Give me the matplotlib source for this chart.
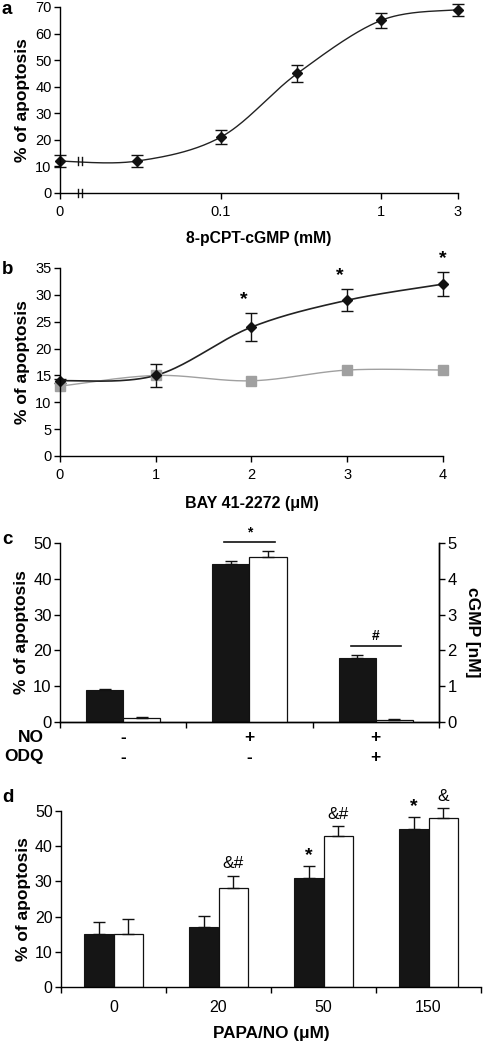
import numpy as np
import matplotlib
matplotlib.use('Agg')
import matplotlib.pyplot as plt

plt.rcParams['font.family'] = ['Liberation Sans', 'DejaVu Sans']

# ---------------- data ----------------
# Panel a
a_conc = [0, 0.03, 0.1, 0.3, 1, 3]
a_apop = [12, 12, 21, 45, 65, 69]
a_err = [2.3, 2.3, 2.7, 3.2, 2.8, 2.3]
a_xticks = [0, 0.1, 1, 3]
a_xticklabels = ['0', '0.1', '1', '3']

# Panel b
b_bay = [0, 1, 2, 3, 4]
b_black = [14, 15, 24, 29, 32]
b_black_err = [0.4, 2.2, 2.6, 2.0, 2.2]
b_gray = [13, 15, 14, 16, 16]
b_sig = ['', '', '*', '*', '*']

# Panel c
c_no = ['-', '+', '+']
c_odq = ['-', '-', '+']
c_apop = [9, 44, 18]
c_apop_err = [0.3, 1.0, 0.7]
c_cgmp = [0.1, 4.6, 0.05]
c_cgmp_err = [0.03, 0.17, 0.03]
c_sig = ['', '*', '#']
c_sig_level = [None, 50.2, 21.3]

# Panel d
d_papa = ['0', '20', '50', '150']
d_black = [15, 17, 31, 45]
d_black_err = [3.4, 3.3, 3.3, 3.3]
d_white = [15, 28, 43, 48]
d_white_err = [4.3, 3.6, 2.6, 2.8]
d_black_sig = ['', '', '*', '*']
d_white_sig = ['', '&#', '&#', '&']

W, H = 489, 1042
fig = plt.figure(figsize=(W / 100, H / 100), dpi=100)


def ax_px(l, r, top, bottom):
    return fig.add_axes([l / W, 1 - bottom / H, (r - l) / W, (bottom - top) / H])


def smooth(xs, ys, sx, sy, n=40):
    P = np.column_stack([np.asarray(xs, float) / sx, np.asarray(ys, float) / sy])
    out = []
    for i in range(len(P) - 1):
        p0 = P[i - 1] if i > 0 else P[i]
        p1, p2 = P[i], P[i + 1]
        p3 = P[i + 2] if i + 2 < len(P) else P[i + 1]
        c1 = p1 + (p2 - p0) / 6
        c2 = p2 - (p3 - p1) / 6
        t = np.linspace(0, 1, n)[:, None]
        seg = (1 - t) ** 3 * p1 + 3 * (1 - t) ** 2 * t * c1 + 3 * (1 - t) * t ** 2 * c2 + t ** 3 * p2
        out.append(seg if i == 0 else seg[1:])
    out = np.vstack(out)
    return out[:, 0] * sx, out[:, 1] * sy


def style(ax, fs=9, right=False):
    for s in ['top'] + ([] if right else ['right']):
        ax.spines[s].set_visible(False)
    for s in ax.spines.values():
        s.set_linewidth(1.0)
    ax.tick_params(direction='out', length=4, width=1, labelsize=fs, pad=2)


ylab_kw = dict(fontweight='bold', fontsize=12.5)

# ---------------- panel a ----------------
axa = ax_px(60, 458, 7, 193)
style(axa, fs=10.5)
ZERO_POS = -2.0


def apos(v):
    v = np.asarray(v, float)
    return np.where(v > 0, np.log10(np.where(v > 0, v, 1)), ZERO_POS)


xa = apos(a_conc)
xlim_a = (ZERO_POS, np.log10(3))
axa.set_xlim(*xlim_a)
axa.set_ylim(0, 70)
sx = (xlim_a[1] - xlim_a[0]) / 398
sy = 70 / 186
cx, cy = smooth(xa, a_apop, sx, sy)
axa.plot(cx, cy, color='#222222', lw=1.0, clip_on=False)
axa.errorbar(xa, a_apop, yerr=a_err, fmt='D', color='#111111', ms=5.5, ecolor='#111111',
             elinewidth=1, capsize=4, capthick=1, clip_on=False)
axa.set_xticks(apos(a_xticks))
axa.set_xticklabels(a_xticklabels)
axa.tick_params(axis='x', pad=5)
axa.set_yticks(range(0, 71, 10))
axa.set_xlabel('8-pCPT-cGMP (mM)', fontsize=11.3, fontweight='bold', labelpad=8)
axa.set_ylabel('% of apoptosis', labelpad=4, **ylab_kw)
# axis break marks
bx = ZERO_POS + 0.11
for yb in (0, a_apop[0]):
    for dx in (0, 0.024):
        axa.plot([bx + dx, bx + dx], [yb - 1.4, yb + 1.4], color='#111111', lw=1, clip_on=False)

# ---------------- panel b ----------------
axb = ax_px(60, 443, 268, 456)
style(axb, fs=10.5)
axb.set_xlim(0, 4)
axb.set_ylim(0, 35)
sxb = 4 / 383
syb = 35 / 188
gx, gy = smooth(b_bay, b_gray, sxb, syb)
axb.plot(gx, gy, color='#a0a0a0', lw=1.0, clip_on=False)
kx, ky = smooth(b_bay, b_black, sxb, syb)
axb.plot(kx, ky, color='#222222', lw=1.2, clip_on=False)
axb.errorbar(b_bay, b_black, yerr=b_black_err, fmt='D', color='#111111', ms=5.5,
             elinewidth=1, capsize=4, capthick=1, clip_on=False)
axb.plot(b_bay, b_gray, 's', color='#a0a0a0', ms=7, clip_on=False)
for x, v, e, s in zip(b_bay, b_black, b_black_err, b_sig):
    if s:
        axb.text(x - 0.08 if x < 4 else x, v + e + 1.0, s, ha='center', va='bottom',
                 fontsize=14, fontweight='bold')
axb.set_xticks(b_bay)
axb.tick_params(axis='x', pad=5)
axb.set_yticks(range(0, 36, 5))
axb.set_xlabel('BAY 41-2272 (\u03bcM)', fontsize=11.5, fontweight='bold', labelpad=10)
axb.set_ylabel('% of apoptosis', labelpad=4, **ylab_kw)

# ---------------- panel c ----------------
axc = ax_px(60, 439, 543, 722)
style(axc, fs=12, right=True)
axc2 = axc.twinx()
style(axc2, fs=12, right=True)
axc2.spines['left'].set_visible(False)
nc = len(c_apop)
xc = np.arange(nc)
bw = 0.295
axc.set_xlim(-0.5, nc - 0.5)
axc.set_ylim(0, 50)
axc2.set_ylim(0, 5)
axc.bar(xc - bw / 2, c_apop, bw, color='#151515', edgecolor='#151515', lw=0.8)
axc.errorbar(xc - bw / 2, c_apop, yerr=[np.zeros(nc), c_apop_err], fmt='none', ecolor='#111111',
             elinewidth=1, capsize=4, capthick=1)
axc2.bar(xc + bw / 2, c_cgmp, bw, color='white', edgecolor='#111111', lw=0.9)
axc2.errorbar(xc + bw / 2, c_cgmp, yerr=[np.zeros(nc), c_cgmp_err], fmt='none', ecolor='#111111',
              elinewidth=1, capsize=4, capthick=1)
axc.set_xticks(np.arange(nc + 1) - 0.5)
axc.set_xticklabels([])
axc.set_yticks(range(0, 51, 10))
axc2.set_yticks(range(0, 6))
axc.set_ylabel('% of apoptosis', labelpad=3, **ylab_kw)
axc2.set_ylabel('cGMP [nM]', rotation=270, labelpad=17, **ylab_kw)
# significance lines
for i, (s, yl) in enumerate(zip(c_sig, c_sig_level)):
    if s:
        axc.plot([xc[i] - 0.2, xc[i] + 0.2], [yl, yl], color='#111111', lw=1.2, clip_on=False)
        axc.text(xc[i], yl + 0.8, s, ha='center', va='bottom', fontsize=10, fontweight='bold')
# NO / ODQ rows
for i in range(nc):
    axc.text(xc[i], -4.2, c_no[i], ha='center', va='center', fontsize=12.5, fontweight='bold')
    axc.text(xc[i], -9.8, c_odq[i], ha='center', va='center', fontsize=12.5, fontweight='bold')
fig.text(44 / W, 1 - 738 / H, 'NO', ha='right', va='center', fontsize=12.5, fontweight='bold')
fig.text(44 / W, 1 - 757 / H, 'ODQ', ha='right', va='center', fontsize=12.5, fontweight='bold')

# ---------------- panel d ----------------
axd = ax_px(61, 481, 811, 987)
style(axd, fs=11.5)
nd = len(d_papa)
xd = np.arange(nd)
bwd = 0.285
axd.set_xlim(-0.5, nd - 0.5)
axd.set_ylim(0, 50)
axd.bar(xd - bwd / 2, d_black, bwd, color='#151515', edgecolor='#151515', lw=0.8)
axd.bar(xd + bwd / 2, d_white, bwd, color='white', edgecolor='#111111', lw=0.9)
axd.errorbar(xd - bwd / 2, d_black, yerr=[np.zeros(nd), d_black_err], fmt='none', ecolor='#111111',
             elinewidth=1, capsize=4, capthick=1, clip_on=False)
axd.errorbar(xd + bwd / 2, d_white, yerr=[np.zeros(nd), d_white_err], fmt='none', ecolor='#111111',
             elinewidth=1, capsize=4, capthick=1, clip_on=False)
for i in range(nd):
    if d_black_sig[i]:
        axd.text(xd[i] - bwd / 2, d_black[i] + d_black_err[i] + 0.6, d_black_sig[i], ha='center',
                 va='bottom', fontsize=14, fontweight='bold', clip_on=False)
    if d_white_sig[i]:
        axd.text(xd[i] + bwd / 2, d_white[i] + d_white_err[i] + 1.3, d_white_sig[i], ha='center',
                 va='bottom', fontsize=12.5)
axd.set_xticks(np.arange(nd + 1) - 0.5, minor=False)
axd.set_xticklabels([])
axd.set_xticks(xd, minor=True)
axd.set_xticklabels(d_papa, minor=True)
axd.tick_params(axis='x', which='minor', length=0, labelsize=11.5, pad=9)
axd.set_yticks(range(0, 51, 10))
axd.set_xlabel('PAPA/NO (\u03bcM)', fontsize=12.3, fontweight='bold', labelpad=8)
axd.set_ylabel('% of apoptosis', labelpad=3, **ylab_kw)

# panel letters
for lab, ypx in [('a', 9), ('b', 270), ('c', 540), ('d', 797)]:
    fig.text(2 / W, 1 - ypx / H, lab, ha='left', va='center', fontsize=13.5, fontweight='bold')

fig.savefig('out.png', dpi=100)
